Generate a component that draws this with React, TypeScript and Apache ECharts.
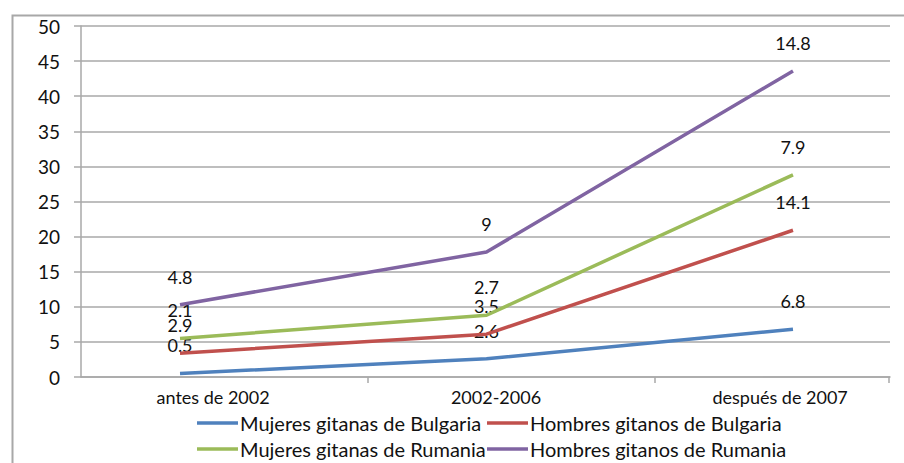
import React, { useEffect, useRef } from "react";
import * as echarts from "echarts";

const categories = ["antes de 2002", "2002-2006", "después de 2007"];
const seriesNames = [
  "Mujeres gitanas de Bulgaria",
  "Hombres gitanos de Bulgaria",
  "Mujeres gitanas de Rumania",
  "Hombres gitanos de Rumania",
];
const mujeresBulgaria = [0.5, 2.6, 6.8];
const hombresBulgaria = [2.9, 3.5, 14.1];
const mujeresRumania = [2.1, 2.7, 7.9];
const hombresRumania = [4.8, 9, 14.8];
const colors = ["#4F81BD", "#C0504D", "#9BBB59", "#8064A2"];

const FONT = "Lato";
const TEXT = "#111111";
const GRID = "#a8a8a8";

export default function App() {
  const ref = useRef<HTMLDivElement>(null);
  useEffect(() => {
    if (!ref.current) return;
    const chart = echarts.init(ref.current, undefined, { renderer: "svg" });
    const raw = [mujeresBulgaria, hombresBulgaria, mujeresRumania, hombresRumania];
    // cumulative (stacked) values, as in the original stacked line chart
    const cum: number[][] = [];
    raw.forEach((arr, si) => {
      cum.push(arr.map((v, i) => +(v + (si > 0 ? cum[si - 1][i] : 0)).toFixed(2)));
    });
    const series = raw.map((arr, si) => ({
      name: seriesNames[si],
      type: "line",
      symbol: "circle",
      symbolSize: 0.01,
      showSymbol: true,
      color: colors[si],
      itemStyle: { color: colors[si] },
      lineStyle: { width: 3.5, color: colors[si] },
      data: cum[si].map((v, i) => [i, v]),
      label: {
        show: true,
        position: "top",
        distance: 19,
        fontFamily: FONT,
        fontSize: 18,
        color: TEXT,
        formatter: (p: any) => String(arr[p.dataIndex]),
      },
      labelLayout: { hideOverlap: false },
      z: 2 + si,
    }));
    const legendItem = (idx: number, left: number, top: number) => ({
      data: [seriesNames[idx]],
      left,
      top,
      orient: "horizontal",
      icon: "rect",
      itemWidth: 41,
      itemHeight: 3.5,
      itemGap: 4,
      textStyle: { fontFamily: FONT, fontSize: 20, color: TEXT, padding: [0, 0, 0, -3] },
    });
    chart.setOption({
      animation: false,
      grid: { left: 81, right: 14, top: 26, bottom: 86 },
      xAxis: {
        type: "value",
        min: -0.323,
        max: 2.3165,
        splitLine: { show: false },
        axisLine: { show: true, onZero: false, lineStyle: { color: GRID, width: 1.5 } },
        axisTick: {
          show: true,
          length: 6,
          lineStyle: { color: GRID, width: 1.5 },
          customValues: [0.613, 1.55, 2.313],
        },
        axisLabel: {
          customValues: [0.108, 1.031, 1.958],
          formatter: (v: number) => categories[Math.round(v)] ?? "",
          fontFamily: FONT,
          fontSize: 18,
          color: TEXT,
          margin: 11,
        },
      },
      yAxis: {
        type: "value",
        min: 0,
        max: 50,
        interval: 5,
        axisLine: { show: true, onZero: false, lineStyle: { color: GRID, width: 1.5 } },
        axisTick: { show: true, length: 7, lineStyle: { color: GRID, width: 1.5 } },
        splitLine: { show: true, lineStyle: { color: GRID, width: 1.5 } },
        axisLabel: { fontFamily: FONT, fontSize: 19, color: TEXT, margin: 21 },
      },
      legend: [
        legendItem(0, 192, 408),
        legendItem(1, 482, 408),
        legendItem(2, 192, 434),
        legendItem(3, 482, 434),
      ],
      graphic: [
        {
          type: "rect",
          left: 10,
          top: 13,
          shape: { width: 1000, height: 600 },
          style: { fill: "none", stroke: "#a8a8a8", lineWidth: 2 },
          z: -10,
          silent: true,
        },
      ],
      series,
    });
    return () => chart.dispose();
  }, []);
  return (
    <div
      ref={ref}
      style={{ position: "fixed", left: 0, top: 0, width: 904, height: 463, background: "#fff" }}
    />
  );
}
